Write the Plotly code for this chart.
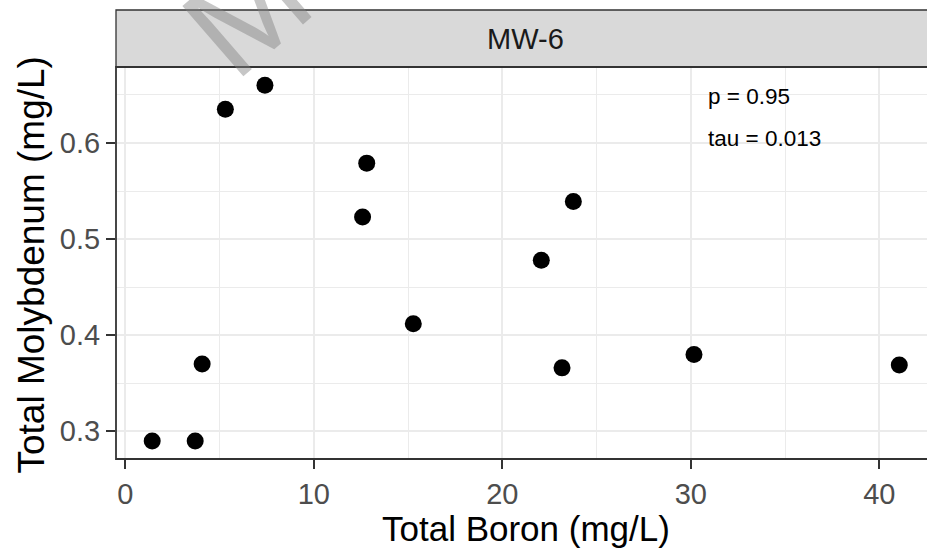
import plotly.graph_objects as go

# Data
boron = [1.43, 3.71, 4.08, 5.31, 7.41, 12.59, 12.81, 15.28, 22.07, 23.77, 23.17, 30.17, 41.06]
molybdenum = [0.290, 0.290, 0.370, 0.635, 0.660, 0.523, 0.579, 0.412, 0.478, 0.539, 0.366, 0.380, 0.369]
x_ticks = [0, 10, 20, 30, 40]
y_ticks = [0.3, 0.4, 0.5, 0.6]
facet_label = "MW-6"
stats_text = ["p = 0.95", "tau = 0.013"]

W, H = 927, 548
L, R, T, B = 116, 0, 67, 89
plot_w = W - L - R
plot_h = H - T - B

def px_x(p):
    return (p - L) / plot_w

def px_y(p):
    return (H - B - p) / plot_h

FONT = "Liberation Sans, Arial"

fig = go.Figure()
fig.add_trace(go.Scatter(
    x=boron, y=molybdenum, mode="markers",
    marker=dict(size=17, color="black"),
    showlegend=False, hoverinfo="x+y",
))

grid = "#ebebeb"
axis_common = dict(
    showline=False, zeroline=False,
    ticks="outside", ticklen=9, tickwidth=2, tickcolor="#333333",
    tickfont=dict(family=FONT, size=29, color="#4d4d4d"),
    showgrid=True, gridcolor=grid, gridwidth=2,
)
fig.update_xaxes(range=[-0.49, 42.53], tickvals=x_ticks,
                 ticktext=[str(v) for v in x_ticks],
                 minor=dict(dtick=5, tick0=0, showgrid=True, gridcolor=grid, gridwidth=1, ticks=""),
                 **axis_common)
fig.update_yaxes(range=[0.2712, 0.679], tickvals=y_ticks,
                 ticktext=[f"{v:.1f}" for v in y_ticks],
                 minor=dict(dtick=0.05, tick0=0.3, showgrid=True, gridcolor=grid, gridwidth=1, ticks=""),
                 **axis_common)

strip_top = px_y(10)
shapes = [
    dict(type="rect", xref="paper", yref="paper", x0=0, x1=1.02, y0=1, y1=strip_top,
         fillcolor="#d9d9d9", line=dict(color="#333333", width=1.3), layer="above"),
    dict(type="rect", xref="paper", yref="paper", x0=0, x1=1.02, y0=0, y1=1,
         fillcolor="rgba(0,0,0,0)", line=dict(color="#333333", width=1.8), layer="above"),
]

center_x = px_x(525.5)
annotations = [
    dict(text=facet_label, xref="paper", yref="paper", x=center_x, y=(1 + strip_top) / 2,
         showarrow=False, xanchor="center", yanchor="middle",
         font=dict(family=FONT, size=29, color="#1a1a1a")),
    dict(text="Total Boron (mg/L)", xref="paper", yref="paper", x=center_x, y=px_y(528),
         showarrow=False, xanchor="center", yanchor="middle",
         font=dict(family=FONT, size=35, color="black")),
    dict(text="Total Molybdenum (mg/L)", xref="paper", yref="paper", x=px_x(31), y=px_y(265.5),
         showarrow=False, xanchor="center", yanchor="middle", textangle=-90,
         font=dict(family=FONT, size=37, color="black")),
    dict(text=stats_text[0], xref="paper", yref="paper", x=px_x(706), y=px_y(96),
         showarrow=False, xanchor="left", yanchor="middle",
         font=dict(family=FONT, size=22.5, color="black")),
    dict(text=stats_text[1], xref="paper", yref="paper", x=px_x(706), y=px_y(138.5),
         showarrow=False, xanchor="left", yanchor="middle",
         font=dict(family=FONT, size=22.5, color="black")),
    dict(text="M", xref="paper", yref="paper", x=px_x(247), y=px_y(12),
         showarrow=False, xanchor="center", yanchor="middle", textangle=-41,
         font=dict(family=FONT, size=135, color="rgba(128,128,128,0.45)")),
]

fig.update_layout(
    width=W, height=H,
    margin=dict(l=L, r=R, t=T, b=B, pad=0),
    paper_bgcolor="white", plot_bgcolor="white",
    shapes=shapes, annotations=annotations,
)

fig.write_html("out.html")
